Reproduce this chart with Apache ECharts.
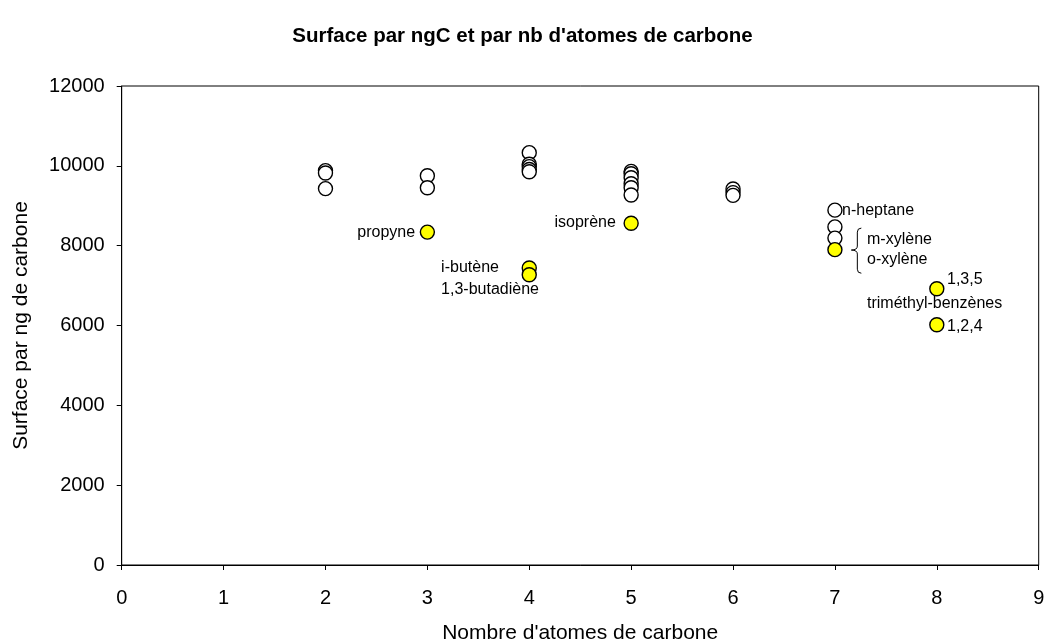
<!DOCTYPE html>
<html>
<head>
<meta charset="utf-8">
<script src="https://cdn.jsdelivr.net/npm/echarts@6/dist/echarts.min.js"></script>
<style>
html,body{margin:0;padding:0;background:#fff;}
#chart{width:1045px;height:643px;}
</style>
</head>
<body>
<div id="chart"></div>
<script>
// Data: hollow (other compounds) points [carbon atoms, surface per ng C]
const otherPoints = [
  [2, 9880], [2, 9820], [2, 9430],
  [3, 9750], [3, 9450],
  [4, 10330], [4, 10040], [4, 9980], [4, 9910], [4, 9850],
  [5, 9860], [5, 9800], [5, 9700], [5, 9550], [5, 9450], [5, 9270],
  [6, 9420], [6, 9330], [6, 9260],
  [7, 8890], [7, 8470], [7, 8190]
];
// Highlighted compounds
const highlightNames = ['propyne', 'i-butène', '1,3-butadiène', 'isoprène', 'xylènes', '1,3,5', '1,2,4'];
const highlightX = [3, 4, 4, 5, 7, 8, 8];
const highlightY = [8340, 7440, 7270, 8560, 7900, 6920, 6020];
// Text annotations [x, y, text, align]
const annotations = [
  [2.88, 8340, 'propyne', 'right'],
  [3.135, 7440, 'i-butène', 'left'],
  [3.135, 6910, '1,3-butadiène', 'left'],
  [4.85, 8580, 'isoprène', 'right'],
  [7.07, 8890, 'n-heptane', 'left'],
  [7.315, 8140, 'm-xylène', 'left'],
  [7.315, 7640, 'o-xylène', 'left'],
  [8.1, 7140, '1,3,5', 'left'],
  [7.315, 6540, 'triméthyl-benzènes', 'left'],
  [8.1, 5970, '1,2,4', 'left']
];
// Brace [x, yTop, yMid, yBottom]
const brace = [[7.22, 8440, 7890, 7310]];
const xTicks = [0, 9, 1];
const yTicks = [0, 12000, 2000];

const font = 'Arial, "Liberation Sans", sans-serif';
const chart = echarts.init(document.getElementById('chart'));
chart.setOption({
  animation: false,
  backgroundColor: '#fff',
  title: {
    text: "Surface par ngC et par nb d'atomes de carbone",
    left: 'center', top: 21,
    textStyle: {fontFamily: font, fontSize: 20.5, fontWeight: 'bold', color: '#000'}
  },
  grid: {left: 121.7, right: 6.3, top: 86, bottom: 78, containLabel: false, outerBoundsMode: 'none',
    show: true, borderColor: '#000', borderWidth: 1, backgroundColor: '#fff'},
  xAxis: {
    type: 'value', min: xTicks[0], max: xTicks[1], interval: xTicks[2],
    name: "Nombre d'atomes de carbone", nameLocation: 'middle', nameGap: 58,
    nameTextStyle: {fontFamily: font, fontSize: 21, color: '#000'},
    axisLine: {show: true, lineStyle: {color: '#000', width: 1}},
    axisTick: {show: true, length: 5, inside: false, lineStyle: {color: '#000'}},
    axisLabel: {fontFamily: font, fontSize: 20, color: '#000', margin: 23},
    splitLine: {show: false}
  },
  yAxis: {
    type: 'value', min: yTicks[0], max: yTicks[1], interval: yTicks[2],
    name: 'Surface par ng de carbone', nameLocation: 'middle', nameGap: 90,
    nameTextStyle: {fontFamily: font, fontSize: 21, color: '#000'},
    axisLine: {show: true, lineStyle: {color: '#000', width: 1}},
    axisTick: {show: true, length: 5, inside: false, lineStyle: {color: '#000'}},
    axisLabel: {fontFamily: font, fontSize: 20, color: '#000', margin: 17, formatter: v => String(v)},
    splitLine: {show: false}
  },
  series: [
    {
      type: 'scatter', data: otherPoints, symbol: 'circle', symbolSize: 14, z: 3,
      itemStyle: {color: '#fff', borderColor: '#000', borderWidth: 1.4, opacity: 1}
    },
    {
      type: 'scatter', symbol: 'circle', symbolSize: 14, z: 4,
      data: highlightX.map((x, i) => ({name: highlightNames[i], value: [x, highlightY[i]]})),
      itemStyle: {color: '#ffff00', borderColor: '#000', borderWidth: 1.4, opacity: 1}
    },
    {
      type: 'scatter', symbolSize: 1, z: 5, silent: true,
      itemStyle: {color: 'rgba(0,0,0,0)', opacity: 1},
      data: annotations.map(a => ({
        value: [a[0], a[1]],
        label: {show: true, position: 'inside', formatter: a[2], align: a[3], verticalAlign: 'middle',
          fontFamily: font, fontSize: 16, color: '#000', opacity: 1}
      }))
    },
    {
      type: 'custom', z: 5, silent: true, data: brace,
      renderItem: function (params, api) {
        const top = api.coord([api.value(0), api.value(1)]);
        const mid = api.coord([api.value(0), api.value(2)]);
        const bot = api.coord([api.value(0), api.value(3)]);
        const x = top[0];
        const path = 'M' + (x + 4) + ' ' + top[1] +
          ' Q' + x + ' ' + top[1] + ' ' + x + ' ' + (top[1] + 4) +
          ' L' + x + ' ' + (mid[1] - 4) +
          ' Q' + x + ' ' + mid[1] + ' ' + (x - 6) + ' ' + mid[1] +
          ' Q' + x + ' ' + mid[1] + ' ' + x + ' ' + (mid[1] + 4) +
          ' L' + x + ' ' + (bot[1] - 4) +
          ' Q' + x + ' ' + bot[1] + ' ' + (x + 4) + ' ' + bot[1];
        return {
          type: 'path',
          shape: {pathData: path},
          style: {fill: null, stroke: '#000', lineWidth: 1}
        };
      }
    }
  ]
});
</script>
</body>
</html>
